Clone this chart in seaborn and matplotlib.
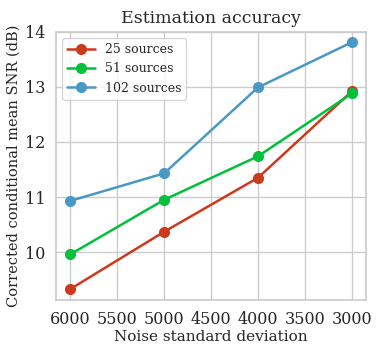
import numpy as np
import matplotlib
matplotlib.use("Agg")
import matplotlib.pyplot as plt
import pandas as pd
import seaborn as sns

# noise levels and SNR per number of sources
noise_std = [6000, 5000, 4000, 3000]
snr_25 = [9.33, 10.37, 11.35, 12.92]
snr_51 = [9.96, 10.95, 11.74, 12.88]
snr_102 = [10.93, 11.43, 12.99, 13.81]
labels = ["25 sources", "51 sources", "102 sources"]
colors = ["#cc3a1e", "#00c03c", "#4a98c4"]

df = pd.DataFrame({
    "noise": noise_std * 3,
    "snr": snr_25 + snr_51 + snr_102,
    "series": [labels[0]] * 4 + [labels[1]] * 4 + [labels[2]] * 4,
})

sns.set_theme(style="whitegrid")
plt.rcParams["font.family"] = ["DejaVu Serif"]
plt.rcParams["axes.edgecolor"] = "#cccccc"

fig, ax = plt.subplots(figsize=(3.8, 3.53), dpi=100)
sns.lineplot(data=df, x="noise", y="snr", hue="series", hue_order=labels,
             palette=colors, marker="o", markersize=8, markeredgewidth=0,
             linewidth=1.8, ax=ax)

ax.set_xlim(6150, 2850)
ax.set_ylim(9.13, 14.0)
ax.set_xticks([6000, 5500, 5000, 4500, 4000, 3500, 3000])
ax.set_yticks([10, 11, 12, 13, 14])
ax.tick_params(labelsize=11.5, pad=2)
ax.set_xlabel("Noise standard deviation", fontsize=11, labelpad=1)
ax.set_ylabel("Corrected conditional mean SNR (dB)", fontsize=10.5, labelpad=3)
ax.set_title("Estimation accuracy", fontsize=12.5)
leg = ax.legend(loc="upper left", fontsize=9, frameon=True, handlelength=2.2)
leg.set_title(None)

fig.subplots_adjust(left=0.148, right=0.963, top=0.91, bottom=0.15)
fig.savefig("out.png", dpi=100)
